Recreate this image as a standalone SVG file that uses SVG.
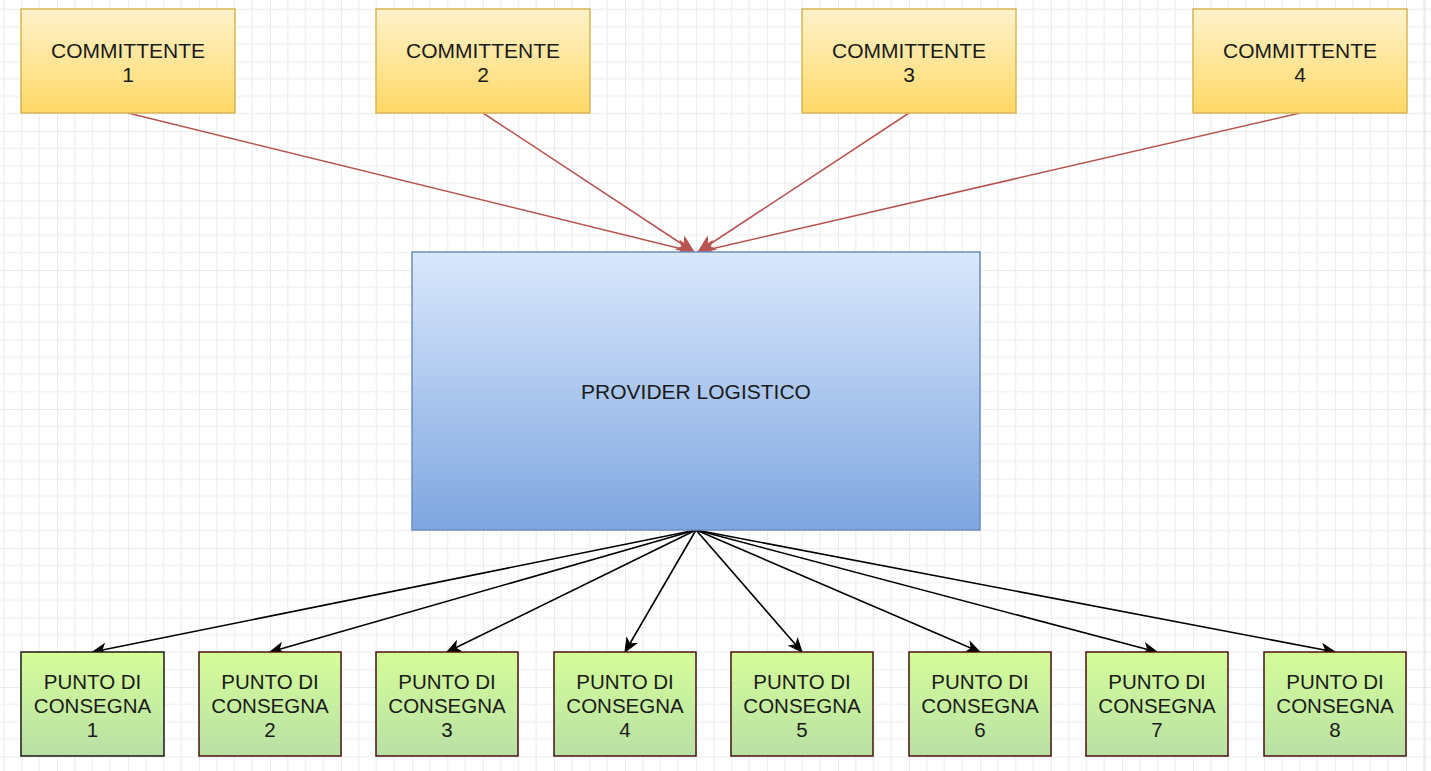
<svg xmlns="http://www.w3.org/2000/svg" width="1431" height="771" viewBox="0 0 1431 771">
  <style>
    .lbl { font-family: "Liberation Sans", Arial, sans-serif; fill: #1a1a1a; text-anchor: middle; }
    .big { font-size: 21px; }
    .small { font-size: 20.5px; }
    .client { fill: url(#gYellow); stroke: #d6b656; stroke-width: 1.5; }
    .provider { fill: url(#gBlue); stroke: #6c8ebf; stroke-width: 1.5; }
    .drop { fill: url(#gGreen); stroke: #4a1010; stroke-width: 1.5; }
    .inflow { stroke: #b85450; stroke-width: 1.5; fill: none; marker-end: url(#arrRed); }
    .outflow { stroke: #000; stroke-width: 1.6; fill: none; marker-end: url(#arrBlack); }
  </style>
  <defs>
    <linearGradient id="gYellow" x1="0" y1="0" x2="0" y2="1">
      <stop offset="0" stop-color="#fff2cc"/>
      <stop offset="1" stop-color="#ffd966"/>
    </linearGradient>
    <linearGradient id="gBlue" x1="0" y1="0" x2="0" y2="1">
      <stop offset="0" stop-color="#dae8fc"/>
      <stop offset="1" stop-color="#7ea6e0"/>
    </linearGradient>
    <linearGradient id="gGreen" x1="0" y1="0" x2="0" y2="1">
      <stop offset="0" stop-color="#d5fd99"/>
      <stop offset="1" stop-color="#b9e0a5"/>
    </linearGradient>
    <pattern id="grid" patternUnits="userSpaceOnUse" x="57" y="131" width="71" height="69.5">
      <rect width="71" height="69.5" fill="#ffffff"/>
      <g stroke="#f2f2f2" stroke-width="1.5">
        <line x1="17.75" y1="0" x2="17.75" y2="69.5"/>
        <line x1="35.5" y1="0" x2="35.5" y2="69.5"/>
        <line x1="53.25" y1="0" x2="53.25" y2="69.5"/>
        <line x1="0" y1="17.375" x2="71" y2="17.375"/>
        <line x1="0" y1="34.75" x2="71" y2="34.75"/>
        <line x1="0" y1="52.125" x2="71" y2="52.125"/>
      </g>
      <g stroke="#e6e6e6" stroke-width="1.5">
        <line x1="0" y1="0" x2="0" y2="69.5"/>
        <line x1="0" y1="0" x2="71" y2="0"/>
      </g>
    </pattern>
    <marker id="arrRed" markerUnits="userSpaceOnUse" viewBox="-18 -9 20 18" refX="0" refY="0" markerWidth="20" markerHeight="18" orient="auto">
      <path d="M0,0 L-16,-7.5 L-12,0 L-16,7.5 Z" fill="#b85450" stroke="#b85450" stroke-width="1"/>
    </marker>
    <marker id="arrBlack" markerUnits="userSpaceOnUse" viewBox="-15 -7 16 14" refX="0" refY="0" markerWidth="16" markerHeight="14" orient="auto">
      <path d="M0,0 L-13,-5.5 L-9.5,0 L-13,5.5 Z" fill="#000" stroke="#000" stroke-width="1"/>
    </marker>
  </defs>

  <!-- canvas background with grid -->
  <rect x="0" y="0" width="1431" height="771" fill="url(#grid)"/>
  <line x1="1425" y1="0" x2="1425" y2="771" stroke="#e2e2e2" stroke-width="1"/>

  <!-- connectors -->
  <g id="connectors">
    <line class="inflow" x1="128" y1="113" x2="694" y2="252"/>
    <line class="inflow" x1="483" y1="113" x2="694" y2="252"/>
    <line class="inflow" x1="909" y1="113" x2="698" y2="252"/>
    <line class="inflow" x1="1300" y1="113" x2="698" y2="252"/>

    <line class="outflow" x1="696" y1="530" x2="92.5" y2="652"/>
    <line class="outflow" x1="696" y1="530" x2="270" y2="652"/>
    <line class="outflow" x1="696" y1="530" x2="447" y2="652"/>
    <line class="outflow" x1="696" y1="530" x2="625" y2="652"/>
    <line class="outflow" x1="696" y1="530" x2="802" y2="652"/>
    <line class="outflow" x1="696" y1="530" x2="980" y2="652"/>
    <line class="outflow" x1="696" y1="530" x2="1157" y2="652"/>
    <line class="outflow" x1="696" y1="530" x2="1335" y2="652"/>
  </g>

  <!-- clients -->
  <g id="committente-1">
    <rect class="client" x="21" y="9" width="214" height="104"/>
    <text class="lbl big" x="128" y="57.5">COMMITTENTE</text>
    <text class="lbl big" x="128" y="82">1</text>
  </g>
  <g id="committente-2">
    <rect class="client" x="376" y="9" width="214" height="104"/>
    <text class="lbl big" x="483" y="57.5">COMMITTENTE</text>
    <text class="lbl big" x="483" y="82">2</text>
  </g>
  <g id="committente-3">
    <rect class="client" x="802" y="9" width="214" height="104"/>
    <text class="lbl big" x="909" y="57.5">COMMITTENTE</text>
    <text class="lbl big" x="909" y="82">3</text>
  </g>
  <g id="committente-4">
    <rect class="client" x="1193" y="9" width="214" height="104"/>
    <text class="lbl big" x="1300" y="57.5">COMMITTENTE</text>
    <text class="lbl big" x="1300" y="82">4</text>
  </g>

  <!-- logistics provider -->
  <g id="provider">
    <rect class="provider" x="412" y="252" width="568" height="278"/>
    <text class="lbl big" x="696" y="399">PROVIDER LOGISTICO</text>
  </g>

  <!-- delivery points -->
  <g id="punto-1">
    <rect class="drop" x="21" y="652" width="143" height="104" style="stroke:#1a1a1a"/>
    <text class="lbl small" x="92.5" y="688.5">PUNTO DI</text>
    <text class="lbl small" x="92.5" y="712.5">CONSEGNA</text>
    <text class="lbl small" x="92.5" y="736.5">1</text>
  </g>
  <g id="punto-2">
    <rect class="drop" x="199" y="652" width="142" height="104"/>
    <text class="lbl small" x="270" y="688.5">PUNTO DI</text>
    <text class="lbl small" x="270" y="712.5">CONSEGNA</text>
    <text class="lbl small" x="270" y="736.5">2</text>
  </g>
  <g id="punto-3">
    <rect class="drop" x="376" y="652" width="142" height="104"/>
    <text class="lbl small" x="447" y="688.5">PUNTO DI</text>
    <text class="lbl small" x="447" y="712.5">CONSEGNA</text>
    <text class="lbl small" x="447" y="736.5">3</text>
  </g>
  <g id="punto-4">
    <rect class="drop" x="554" y="652" width="142" height="104"/>
    <text class="lbl small" x="625" y="688.5">PUNTO DI</text>
    <text class="lbl small" x="625" y="712.5">CONSEGNA</text>
    <text class="lbl small" x="625" y="736.5">4</text>
  </g>
  <g id="punto-5">
    <rect class="drop" x="731" y="652" width="142" height="104"/>
    <text class="lbl small" x="802" y="688.5">PUNTO DI</text>
    <text class="lbl small" x="802" y="712.5">CONSEGNA</text>
    <text class="lbl small" x="802" y="736.5">5</text>
  </g>
  <g id="punto-6">
    <rect class="drop" x="909" y="652" width="142" height="104"/>
    <text class="lbl small" x="980" y="688.5">PUNTO DI</text>
    <text class="lbl small" x="980" y="712.5">CONSEGNA</text>
    <text class="lbl small" x="980" y="736.5">6</text>
  </g>
  <g id="punto-7">
    <rect class="drop" x="1086" y="652" width="142" height="104"/>
    <text class="lbl small" x="1157" y="688.5">PUNTO DI</text>
    <text class="lbl small" x="1157" y="712.5">CONSEGNA</text>
    <text class="lbl small" x="1157" y="736.5">7</text>
  </g>
  <g id="punto-8">
    <rect class="drop" x="1264" y="652" width="142" height="104"/>
    <text class="lbl small" x="1335" y="688.5">PUNTO DI</text>
    <text class="lbl small" x="1335" y="712.5">CONSEGNA</text>
    <text class="lbl small" x="1335" y="736.5">8</text>
  </g>
</svg>
